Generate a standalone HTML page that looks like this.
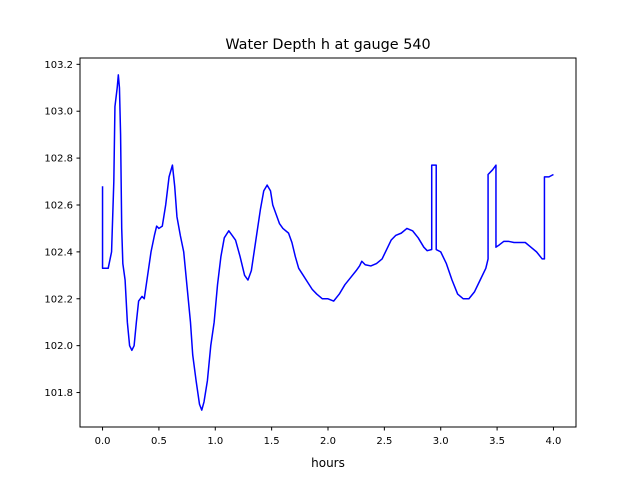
<!DOCTYPE html>
<html><head><meta charset="utf-8"><style>
body{margin:0;background:#fff}
svg text{font-family:"DejaVu Sans","Liberation Sans",sans-serif;fill:#000}
</style></head><body>
<svg id="chart" width="640" height="480" xmlns="http://www.w3.org/2000/svg">
<rect width="640" height="480" fill="#fff"/>
<text x="328" y="49" font-size="14.4" text-anchor="middle">Water Depth h at gauge 540</text>
<g id="plot"></g>
<rect x="80" y="58" width="496" height="369" fill="none" stroke="#000" stroke-width="1"/>
<text x="328" y="467" font-size="12" text-anchor="middle">hours</text>
</svg>
<script>
const xs=[0.0,0.0,0.02,0.05,0.08,0.1,0.11,0.13,0.14,0.15,0.16,0.17,0.18,0.2,0.22,0.24,0.26,0.28,0.3,0.32,0.35,0.37,0.4,0.43,0.46,0.48,0.5,0.53,0.56,0.59,0.62,0.64,0.66,0.69,0.72,0.75,0.78,0.8,0.83,0.86,0.88,0.9,0.93,0.96,0.99,1.02,1.05,1.08,1.12,1.15,1.18,1.22,1.26,1.29,1.32,1.36,1.4,1.43,1.46,1.49,1.51,1.54,1.57,1.6,1.65,1.68,1.71,1.74,1.78,1.82,1.86,1.9,1.95,2.0,2.05,2.1,2.15,2.2,2.25,2.28,2.3,2.33,2.38,2.43,2.48,2.52,2.56,2.6,2.65,2.7,2.75,2.8,2.85,2.88,2.92,2.92,2.96,2.96,3.0,3.05,3.1,3.15,3.2,3.25,3.3,3.35,3.4,3.42,3.42,3.46,3.49,3.49,3.52,3.56,3.6,3.65,3.7,3.75,3.8,3.85,3.9,3.92,3.92,3.96,4.0];
const ys=[102.68,102.33,102.33,102.33,102.4,102.7,103.02,103.1,103.155,103.1,102.9,102.5,102.35,102.28,102.1,102.0,101.98,102.0,102.1,102.19,102.21,102.2,102.3,102.4,102.47,102.51,102.5,102.51,102.6,102.72,102.77,102.68,102.55,102.47,102.4,102.25,102.1,101.96,101.85,101.75,101.725,101.76,101.85,102.0,102.1,102.26,102.38,102.46,102.49,102.47,102.45,102.38,102.3,102.28,102.32,102.45,102.58,102.66,102.685,102.66,102.6,102.56,102.52,102.5,102.48,102.44,102.38,102.33,102.3,102.27,102.24,102.22,102.2,102.2,102.19,102.22,102.26,102.29,102.32,102.34,102.36,102.345,102.34,102.35,102.37,102.41,102.45,102.47,102.48,102.5,102.49,102.46,102.42,102.405,102.41,102.77,102.77,102.41,102.4,102.35,102.28,102.22,102.2,102.2,102.23,102.28,102.33,102.37,102.73,102.75,102.77,102.42,102.43,102.445,102.445,102.44,102.44,102.44,102.42,102.4,102.37,102.37,102.72,102.72,102.73];
const xTicks=[0.0,0.5,1.0,1.5,2.0,2.5,3.0,3.5,4.0];
const yTicks=[101.8,102.0,102.2,102.4,102.6,102.8,103.0,103.2];
const L=80,R=576,T=58,B=427,xmin=-0.2,xmax=4.2,ymin=101.653,ymax=103.227;
const X=v=>L+(v-xmin)/(xmax-xmin)*(R-L);
const Y=v=>B-(v-ymin)/(ymax-ymin)*(B-T);
const ns="http://www.w3.org/2000/svg",g=document.getElementById('plot');
function mk(t,a){const e=document.createElementNS(ns,t);for(const k in a)e.setAttribute(k,a[k]);g.appendChild(e);return e;}
xTicks.forEach(t=>{
 const l=mk('line',{x1:X(t),x2:X(t),y1:B,y2:B+3.5,stroke:'#000'});
 
 
 const s=mk('text',{x:X(t),y:B+17,'font-size':10,'text-anchor':'middle'});s.textContent=t.toFixed(1);
 
 
});
yTicks.forEach(t=>{
 const l=mk('line',{x1:L-3.5,x2:L,y1:Y(t),y2:Y(t),stroke:'#000'});
 
 
 const s=mk('text',{x:L-7,y:Y(t)+3.5,'font-size':10,'text-anchor':'end'});s.textContent=t.toFixed(1);
 
 
});
const p=mk('polyline',{points:xs.map((x,i)=>X(x)+','+Y(ys[i])).join(' '),fill:'none',stroke:'#0000ff','stroke-width':1.5,'stroke-linejoin':'round'});


</script>
</body></html>
